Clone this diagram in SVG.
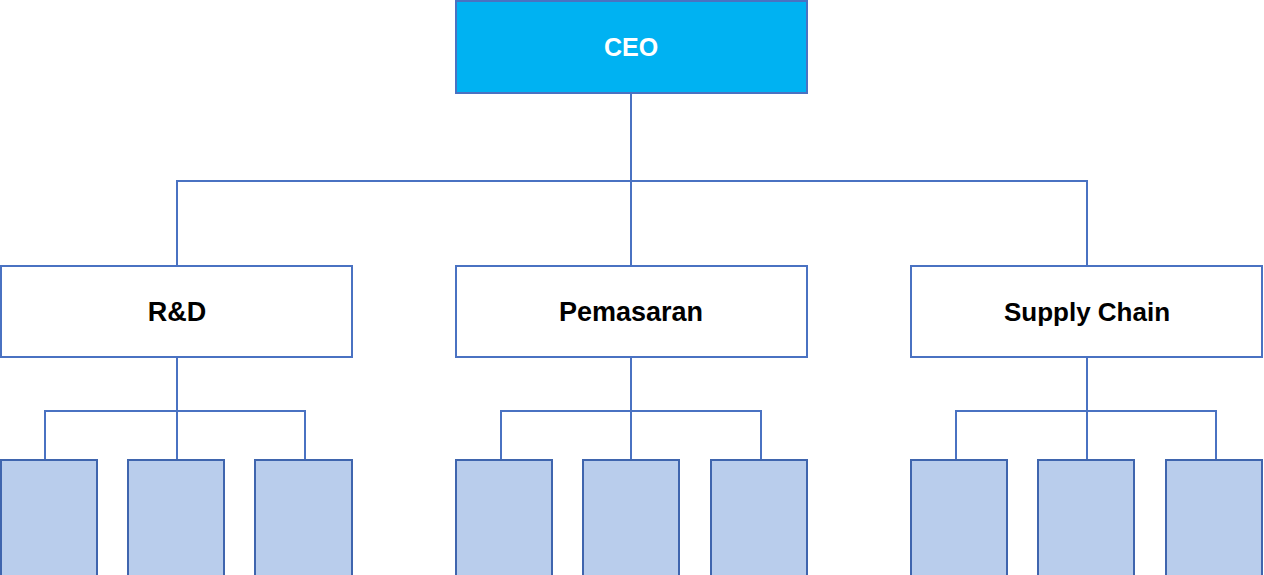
<svg xmlns="http://www.w3.org/2000/svg" width="1264" height="575" viewBox="0 0 1264 575">
<style>
.box{stroke:#4A72C2;stroke-width:2}
.ceo{fill:#00B2F2}
.dept{fill:#FFFFFF}
.sub{fill:#B9CDEC;stroke:#3F65AE}
.lbl{font-family:"Liberation Sans",Arial,sans-serif;font-weight:bold;text-anchor:middle;dominant-baseline:central}
.conn{fill:none;stroke:#4A72C2;stroke-width:2}
</style>
<rect width="1264" height="575" fill="#FFFFFF"/>
<g id="connectors">
<path class="conn" d="M631 93V181M177 266V181H1087V266M631 181V266"/>
<path class="conn" d="M177 357V411M45 460V411H305V460M177 411V460"/>
<path class="conn" d="M631 357V411M501 460V411H761V460M631 411V460"/>
<path class="conn" d="M1087 357V411M956 460V411H1216V460M1087 411V460"/>
</g>
<g id="ceo"><rect class="box ceo" x="456" y="1" width="351" height="92"/><text class="lbl" x="631" y="47" font-size="25" fill="#FFFFFF">CEO</text></g>
<g id="rnd"><rect class="box dept" x="1" y="266" width="351" height="91"/><text class="lbl" x="177" y="312" font-size="27" fill="#000">R&amp;D</text></g>
<g id="pemasaran"><rect class="box dept" x="456" y="266" width="351" height="91"/><text class="lbl" x="631" y="312" font-size="27" fill="#000">Pemasaran</text></g>
<g id="supply-chain"><rect class="box dept" x="911" y="266" width="351" height="91"/><text class="lbl" x="1087" y="312" font-size="26" fill="#000">Supply Chain</text></g>
<g id="rnd-1"><rect class="box sub" x="1" y="460" width="96" height="120"/></g>
<g id="rnd-2"><rect class="box sub" x="128" y="460" width="96" height="120"/></g>
<g id="rnd-3"><rect class="box sub" x="255" y="460" width="97" height="120"/></g>
<g id="pem-1"><rect class="box sub" x="456" y="460" width="96" height="120"/></g>
<g id="pem-2"><rect class="box sub" x="583" y="460" width="96" height="120"/></g>
<g id="pem-3"><rect class="box sub" x="711" y="460" width="96" height="120"/></g>
<g id="sc-1"><rect class="box sub" x="911" y="460" width="96" height="120"/></g>
<g id="sc-2"><rect class="box sub" x="1038" y="460" width="96" height="120"/></g>
<g id="sc-3"><rect class="box sub" x="1166" y="460" width="96" height="120"/></g>
</svg>
